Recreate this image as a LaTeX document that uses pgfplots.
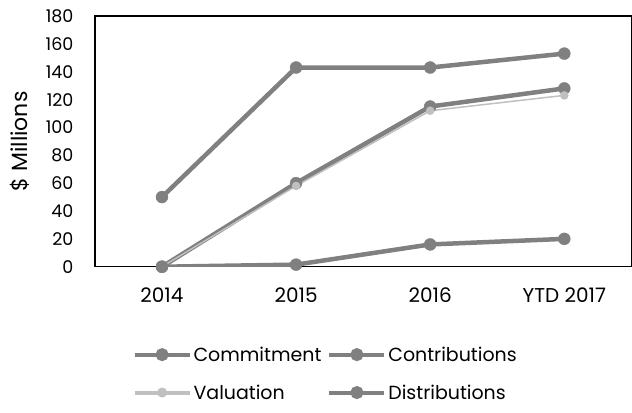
\documentclass[border=0pt]{standalone}
\usepackage{pgfplots}
\pgfplotsset{compat=1.18}
\usetikzlibrary{calc}
\usepackage{fontspec}
\setmainfont{Poppins}
\definecolor{mgray}{HTML}{808080}
\definecolor{lgray}{HTML}{C0C0C0}
\begin{document}
\begin{tikzpicture}
\begin{axis}[
  scale only axis,
  width=537pt, height=251pt,
  xmin=-0.5, xmax=3.5,
  ymin=0, ymax=180,
  ytick={0,20,...,180},
  xtick={0,1,2,3},
  xticklabels={2014,2015,2016,YTD 2017},
  major tick length=0pt,
  axis line style={black, line width=1.3pt},
  /pgf/number format/assume math mode=true,
  xticklabel style={font=\fontsize{20}{22}\selectfont, yshift=-18pt},
  yticklabel style={font=\fontsize{17.5}{19}\selectfont, xshift=-18pt},
  ylabel={\$ Millions},
  ylabel style={font=\fontsize{22}{24}\selectfont, at={(rel axis cs:0,0.5)}, yshift=75pt, anchor=center},
  legend style={draw=none, at={(rel axis cs:0.07,-0.31)}, anchor=north west,
    font=\fontsize{19}{21}\selectfont, legend columns=2,
    /tikz/every even column/.append style={column sep=4pt},
    row sep=18pt, inner sep=0pt},
  legend cell align=left,
  legend image code/.code={\draw[#1, line width=4pt] (0pt,0pt) -- (55pt,0pt); \fill[#1] (27.5pt,0pt) circle (4.2pt);},
]
\addplot[mgray, line width=4.5pt, mark=*, mark size=6pt, mark options={solid, line width=0.4pt}] coordinates {(0,50) (1,143) (2,143) (3,153)};
\addlegendentry{Commitment}
\addplot[mgray, line width=4.5pt, mark=*, mark size=6pt, mark options={line width=0.4pt}] coordinates {(0,0) (1,60) (2,115) (3,128)};
\addlegendentry{Contributions}
\addplot[lgray, line width=1.5pt, mark=*, mark size=3.5pt] coordinates {(0,0) (1,58) (2,112) (3,123)};
\addlegendentry{Valuation}
\addplot[mgray, line width=4.5pt, mark=*, mark size=6pt, mark options={line width=0.4pt}] coordinates {(0,0) (1,1.5) (2,16) (3,20)};
\addlegendentry{Distributions}
\end{axis}
\path ($(current axis.south west)+(-95pt,-146pt)$) rectangle ($(current axis.north east)+(0pt,16pt)$);
\end{tikzpicture}
\end{document}
